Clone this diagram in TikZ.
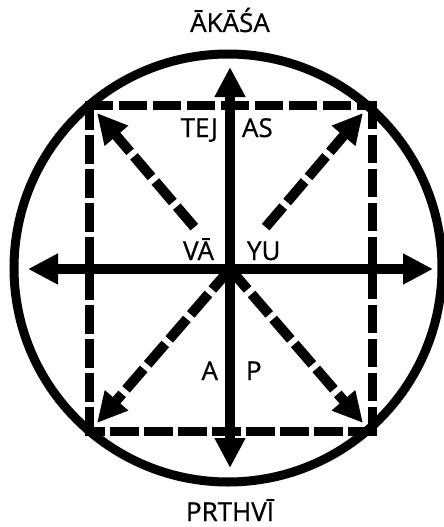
\documentclass[tikz,border=0pt]{standalone}
\usepackage{fontspec}
\setmainfont{Open Sans}
\newfontfamily\lblfont[FakeBold=0.8]{Open Sans}
\usetikzlibrary{arrows.meta,calc}

\begin{document}
\begin{tikzpicture}[line width=9pt, >={Triangle[length=30pt,width=29pt]}, x=1pt, y=-1pt,
    lbl/.style={font=\lblfont\fontsize{26}{30}\selectfont, inner sep=0.5pt},
    axis/.style={line width=10pt, <->},
    ray/.style={line width=10pt, ->, dash pattern=on 27pt off 6pt},
    framedash/.style={line cap=rect, dash pattern=on 19.5pt off 14.5pt}]
  \useasboundingbox (0,0) rectangle (444,527);
  % centre of the cross and corners of the dashed frame
  \coordinate (c) at (230,269);
  \coordinate (nw) at (89,105);
  \coordinate (ne) at (372,105);
  \coordinate (sw) at (89,431);
  \coordinate (se) at (372,431);
  % ends of the arrows
  \coordinate (top) at (230,67);
  \coordinate (bot) at (230,468);
  \coordinate (lft) at (28,269);
  \coordinate (rgt) at (433,269);
  \coordinate (tnw) at (97,113);
  \coordinate (tne) at (363,113);
  \coordinate (tsw) at (97,423);
  \coordinate (tse) at (363,423);

  \draw (228,268) circle[radius=214];
  % the frame, one side at a time so each corner is closed
  \draw[framedash] (nw) -- (ne);
  \draw[framedash] (ne) -- (se);
  \draw[framedash] (se) -- (sw);
  \draw[framedash] (sw) -- (nw);

  % diagonal rays; the upper two leave room for the labels
  \draw[ray] ($(c)!55pt!(tnw)$) -- (tnw);
  \draw[ray] ($(c)!55pt!(tne)$) -- (tne);
  \draw[ray] (c) -- (tsw);
  \draw[ray] (c) -- (tse);

  \draw[axis] (top) -- (bot);
  \draw[axis] (lft) -- (rgt);

  \node[lbl, anchor=base] (akasa) at (230,32) {ĀKĀŚA};
  \node[lbl, anchor=base] (prthvi) at (230,521) {PRTHVĪ};
  \node[lbl, anchor=base east] (tej) at (223,137) {TEJ};
  \node[lbl, anchor=base west] (as) at (237,137) {AS};
  \node[lbl, anchor=base east] (va) at (219,260) {VĀ};
  \node[lbl, anchor=base west] (yu) at (242,260) {YU};
  \node[lbl, anchor=base east] (a) at (223,380) {A};
  \node[lbl, anchor=base west] (p) at (241,380) {P};
\end{tikzpicture}
\end{document}
